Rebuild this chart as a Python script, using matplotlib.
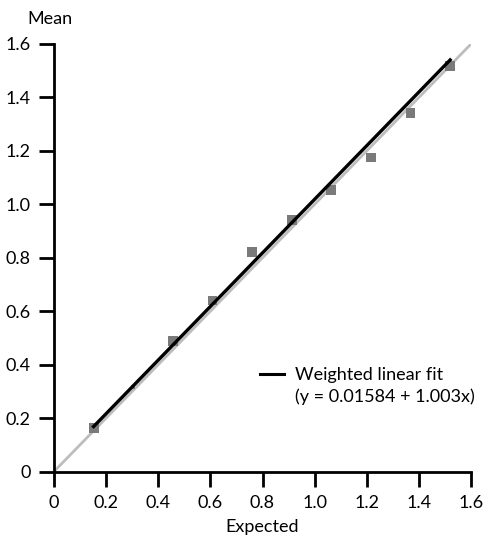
import matplotlib
matplotlib.use("Agg")
import matplotlib.pyplot as plt
from matplotlib.lines import Line2D
from matplotlib.ticker import FuncFormatter
import numpy as np

plt.rcParams['font.family'] = ['Lato', 'DejaVu Sans']

expected = [0.152, 0.304, 0.456, 0.608, 0.760, 0.912, 1.064, 1.216, 1.368, 1.520]
mean = [0.162, 0.317, 0.489, 0.640, 0.822, 0.940, 1.055, 1.175, 1.343, 1.517]
fit_intercept = 0.01584
fit_slope = 1.003
ticks = [0, 0.2, 0.4, 0.6, 0.8, 1.0, 1.2, 1.4, 1.6]

fig = plt.figure(figsize=(4.96, 5.37), dpi=100)
ax = fig.add_axes([54/496, 1-471.5/537, (471-54)/496, (471.5-44)/537])

# identity line
ax.plot([0, 1.6], [0, 1.6], color='#bdbdbd', lw=2, zorder=1)
# points (the second one is rendered much smaller in the original)
sizes = [50, 8, 50, 50, 50, 50, 50, 50, 50, 50]
ax.scatter(expected, mean, s=sizes, marker='s', color='#7a7a7a', edgecolors='none', zorder=2)
# fit line
xf = np.array([expected[0], expected[-1]])
ax.plot(xf, fit_intercept + fit_slope*xf, color='black', lw=2.4, zorder=3)

ax.set_xlim(0, 1.6)
ax.set_ylim(0, 1.6)
ax.set_xticks(ticks)
ax.set_yticks(ticks)
fmt = FuncFormatter(lambda v, p: '0' if abs(v) < 1e-9 else f'{v:.1f}')
ax.xaxis.set_major_formatter(fmt)
ax.yaxis.set_major_formatter(fmt)
for s in ['top', 'right']:
    ax.spines[s].set_visible(False)
for s in ['left', 'bottom']:
    ax.spines[s].set_linewidth(2)
ax.tick_params(direction='out', length=11, width=2, labelsize=13, colors='black', pad=6)

ax.set_xlabel('Expected', fontsize=13, labelpad=6)
fig.text(50/496, 1-19/537, 'Mean', fontsize=13, ha='center', va='center')

handles = [Line2D([], [], color='black', lw=2.2), Line2D([], [], color='none')]
labels = ['Weighted linear fit', f'(y = {fit_intercept} + {fit_slope}x)']
leg = ax.legend(handles, labels, loc='center left', bbox_to_anchor=(0.495, 0.2),
                frameon=False, fontsize=13, handlelength=1.3, handletextpad=0.6,
                labelspacing=0.3, borderpad=0, borderaxespad=0)

fig.savefig('out.png', dpi=100)
